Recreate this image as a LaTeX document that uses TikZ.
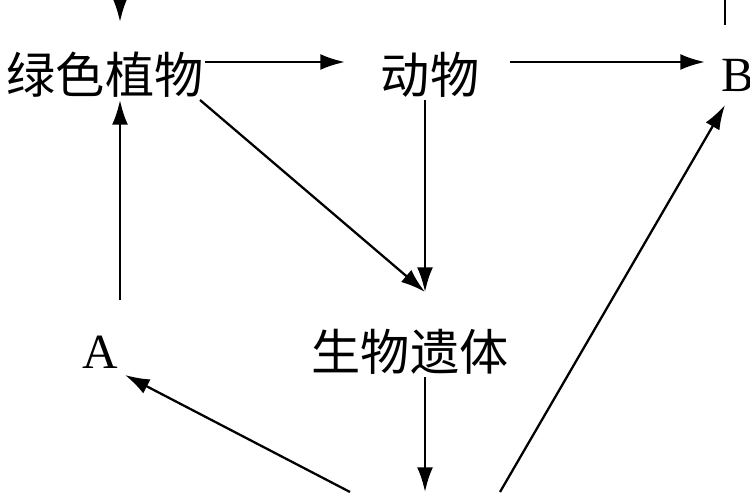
\documentclass[tikz,border=0pt]{standalone}
\usetikzlibrary{arrows.meta}
\usepackage{fontspec}
\setmainfont{Liberation Serif}
\newfontfamily\cjk{Noto Sans CJK SC}
\begin{document}
\begin{tikzpicture}[x=0.02cm,y=-0.02cm,
  lbl/.style={inner sep=0pt,font=\cjk\fontsize{28}{30}\selectfont},
  let/.style={inner sep=0pt,font=\fontsize{28}{30}\selectfont},
  arr/.style={-{Latex[length=14pt,width=9pt]},line width=1.3pt}]
\useasboundingbox (0,0) rectangle (750,500);
\clip (0,0) rectangle (750,500);
\node[lbl] (g) at (105,75) {绿色植物};
\node[lbl] (d) at (430,75) {动物};
\node[let] (b) at (738,75) {B};
\node[let] (a) at (100,352) {A};
\node[lbl] (s) at (410,352) {生物遗体};
\coordinate (top) at (120,-5);
\coordinate (gt) at (120,22);
\coordinate (tr) at (725,-5);
\coordinate (tr2) at (725,25);
\coordinate (bot) at (425,492);
\coordinate (bl) at (350,492);
\coordinate (br) at (500,492);
\draw[arr] (top) -- (gt);
\draw[line width=1.3pt] (tr) -- (tr2);
\draw[arr] (205,62) -- (345,62);
\draw[arr] (510,62) -- (705,62);
\draw[arr] (200,100) -- (425,292);
\draw[arr] (425,100) -- (425,292);
\draw[arr] (120,300) -- (120,100);
\draw[arr] (425,377) -- (bot);
\draw[arr] (bl) -- (125,375);
\draw[arr] (br) -- (725,105);
\end{tikzpicture}
\end{document}
